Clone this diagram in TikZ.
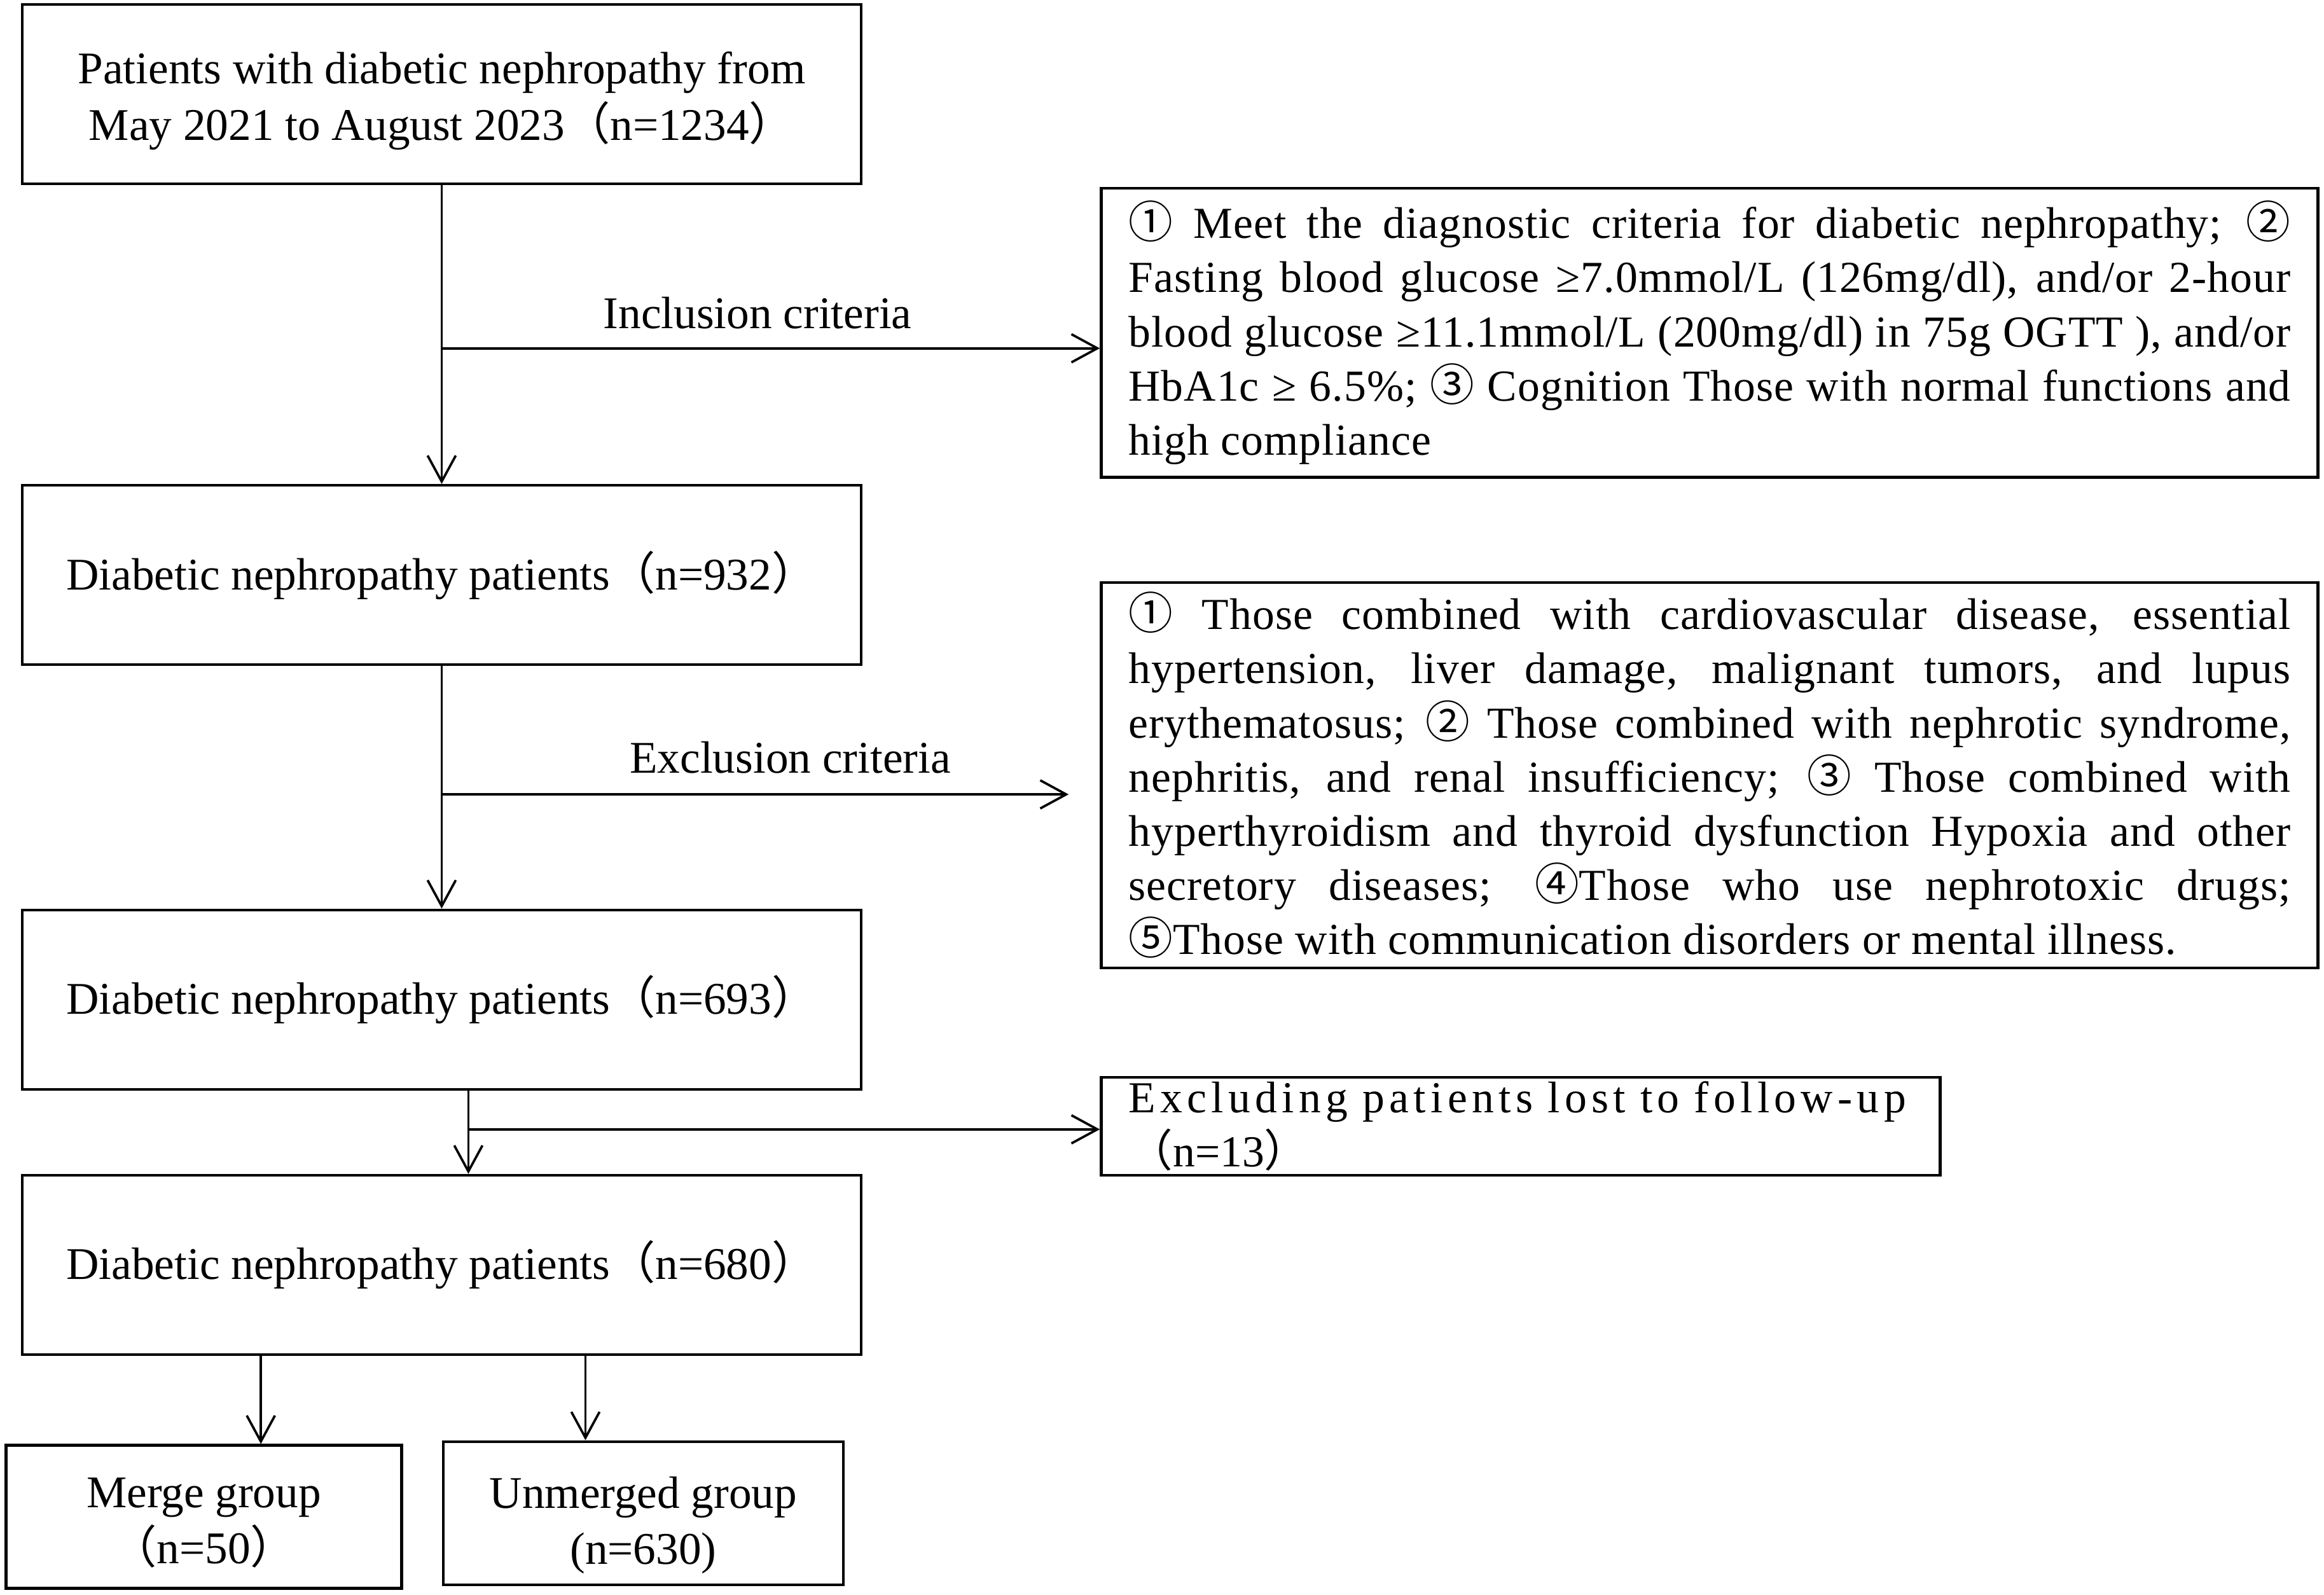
\documentclass[tikz,border=0pt]{standalone}
\usepackage{fontspec}
\setmainfont{Liberation Serif}
\newfontfamily\cjk{Noto Sans CJK SC}
\usetikzlibrary{arrows.meta}
\newcommand{\fp}[1]{{\cjk （}#1{\cjk ）}}
\newcommand{\cn}[1]{{\cjk #1}}
\newcommand{\dn}[2][0.09cm]{\raisebox{-#1}[\height][\depth]{\begin{tabular}{@{}c@{}}#2\end{tabular}}}

\begin{document}
\begin{tikzpicture}[
      box/.style={draw, line width=1.1pt, minimum width=11.32cm, minimum height=2.42cm,
        align=center, font=\fontsize{17.4}{21.6}\selectfont},
      crit/.style={draw, line width=1.1pt, text width=15.68cm, inner xsep=0.37cm,
        align=justify, font=\fontsize{17}{20.8}\selectfont\addfontfeature{LetterSpace=1.5}},
      grp/.style={draw, line width=1.1pt, minimum height=1.93cm, align=center,
        font=\fontsize{17.4}{21.6}\selectfont},
      lab/.style={font=\fontsize{17.4}{21.6}\selectfont},
      arr/.style={line width=0.9pt, -{Straight Barb[length=3.5mm,width=3.8mm]}}]
      \useasboundingbox (0,0) rectangle (31.36,-21.52);
      \node[box] (start) at (5.96,-1.27) {\dn{Patients with diabetic nephropathy from\\
        May 2021 to August 2023\fp{n=1234}}};
      \node[box] (incl1) at (5.96,-7.76) {Diabetic nephropathy patients\fp{n=932}};
      \node[box] (excl1) at (5.96,-13.49) {Diabetic nephropathy patients\fp{n=693}};
      \node[box] (final) at (5.96,-17.07) {Diabetic nephropathy patients\fp{n=680}};
      \node[crit, minimum height=3.90cm] (inclc) at (23.07,-4.49) {\cn{①} Meet the diagnostic
        criteria for diabetic nephropathy; \cn{②}\linebreak Fasting blood glucose ≥7.0mmol/L
        (126mg/dl), and/or 2-hour\linebreak blood glucose ≥11.1mmol/L (200mg/dl) in 75g OGTT ),
        and/or\linebreak HbA1c ≥ 6.5\%; \cn{③} Cognition Those with normal functions and\linebreak
        high compliance};
      \node[crit, minimum height=5.20cm] (exclc) at (23.07,-10.46) {\cn{①} Those combined with
        cardiovascular disease, essential\linebreak hypertension, liver damage, malignant tumors,
        and lupus\linebreak erythematosus; \cn{②} Those combined with nephrotic syndrome,\linebreak
        nephritis, and renal insufficiency; \cn{③} Those combined with\linebreak hyperthyroidism
        and thyroid dysfunction Hypoxia and other\linebreak secretory diseases; \cn{④}Those who use
        nephrotoxic drugs;\linebreak \cn{⑤}Those with communication disorders or mental illness.};
      \node[crit, text width=10.58cm, inner ysep=0pt, minimum height=1.32cm, align=left,
        font=\fontsize{17}{20.8}\selectfont] (lost) at (20.52,-15.20)
        {{\addfontfeature{LetterSpace=10.5}Excluding patients lost to follow-up}\\\fp{n=13}};
      \node[grp, minimum width=5.34cm] (merge) at (2.75,-20.47) {\dn[0.10cm]{Merge group\\\fp{n=50}}};
      \node[grp, minimum width=5.40cm] (unmerge) at (8.68,-20.42)
        {\dn[0.16cm]{Unmerged group\\(n=630)}};
      \coordinate (incy) at (0,-4.70);
      \coordinate (excy) at (14.42,-10.72);
      \coordinate (losx) at (6.32,-15.24);
      \coordinate (mgx) at (3.52,0);
      \coordinate (umx) at (7.90,0);
      \draw[arr] (start) -- (incl1);
      \draw[arr] (start.south |- incy) -- node[lab, above=0.13cm, pos=0.48] (inlab)
        {Inclusion criteria} (inclc.west |- incy);
      \draw[arr] (incl1) -- (excl1);
      \draw[arr] (incl1.south |- excy) -- node[lab, above=0.15cm, pos=0.556] (exlab)
        {Exclusion criteria} (excy);
      \draw[arr] (excl1.south -| losx) -- (final.north -| losx);
      \draw[arr] (losx) -- (lost.west |- losx);
      \draw[arr] (final.south -| mgx) -- (merge.north -| mgx);
      \draw[arr] (final.south -| umx) -- (unmerge.north -| umx);
    \end{tikzpicture}
\end{document}
